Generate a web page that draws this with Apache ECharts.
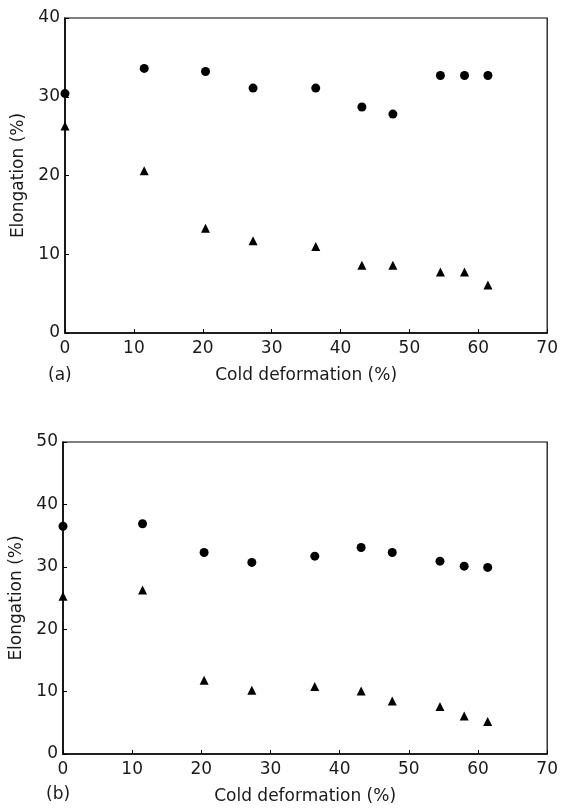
<!DOCTYPE html>
<html>
<head>
<meta charset="utf-8">
<script src="https://cdn.jsdelivr.net/npm/echarts@6/dist/echarts.min.js"></script>
<style>
html,body{margin:0;padding:0;background:#fff;}
#c{width:561px;height:808px;}
</style>
</head>
<body>
<div id="c"></div>
<script>
var deformation = [0, 11.5, 20.4, 27.3, 36.4, 43.1, 47.6, 54.5, 58.0, 61.4];
var aCircles = [30.4, 33.6, 33.2, 31.1, 31.1, 28.7, 27.8, 32.7, 32.7, 32.7];
var aTriangles = [26.3, 20.6, 13.3, 11.7, 11.0, 8.6, 8.6, 7.75, 7.75, 6.1];
var bCircles = [36.5, 36.9, 32.3, 30.7, 31.7, 33.1, 32.3, 30.9, 30.1, 29.9];
var bTriangles = [25.3, 26.3, 11.8, 10.2, 10.8, 10.1, 8.5, 7.6, 6.1, 5.2];
var xTitle = 'Cold deformation (%)';
var yTitle = 'Elongation (%)';
var panelLabels = ['(a)', '(b)'];

function pairs(xs, ys){ return xs.map(function(x,i){ return [x, ys[i]]; }); }

var FONT = 'DejaVu Sans';
var TC = '#1a1a1a';

function xAxis(gi){
  return {
    type:'value', gridIndex:gi, min:0, max:70, interval:10,
    name: xTitle, nameLocation:'middle', nameGap:34,
    nameTextStyle:{fontFamily:FONT, fontSize:17, color:TC},
    axisLine:{show:true, onZero:false, lineStyle:{color:'#000', width:1.5}},
    axisTick:{show:true, inside:true, length:4, lineStyle:{color:'#000'}},
    axisLabel:{fontFamily:FONT, fontSize:17, color:TC, margin:7},
    splitLine:{show:false}
  };
}
function yAxis(gi, max){
  return {
    type:'value', gridIndex:gi, min:0, max:max, interval:10,
    name: yTitle, nameLocation:'middle', nameGap:35,
    nameTextStyle:{fontFamily:FONT, fontSize:17, color:TC},
    axisLine:{show:true, onZero:false, lineStyle:{color:'#000', width:1.5}},
    axisTick:{show:true, inside:true, length:4, lineStyle:{color:'#000'}},
    axisLabel:{fontFamily:FONT, fontSize:17, color:TC, margin:5},
    splitLine:{show:false}
  };
}
function sc(xi, data, sym, size){
  return {
    type:'scatter', xAxisIndex:xi, yAxisIndex:xi, data:data,
    symbol:sym, symbolSize:size, clip:false,
    itemStyle:{color:'#000', opacity:1}
  };
}

var chart = echarts.init(document.getElementById('c'), null, {renderer:'canvas'});
chart.setOption({
  animation:false,
  backgroundColor:'#fff',
  grid:[
    {left:65, right:13, top:18, height:315, show:true, borderColor:'#000', borderWidth:1.2, backgroundColor:'transparent'},
    {left:63, right:13, top:442, height:312, show:true, borderColor:'#000', borderWidth:1.2, backgroundColor:'transparent'}
  ],
  xAxis:[xAxis(0), xAxis(1)],
  yAxis:[yAxis(0,40), yAxis(1,50)],
  series:[
    sc(0, pairs(deformation, aCircles), 'circle', 9),
    sc(0, pairs(deformation, aTriangles), 'triangle', 9),
    sc(1, pairs(deformation, bCircles), 'circle', 9),
    sc(1, pairs(deformation, bTriangles), 'triangle', 9)
  ],
  graphic:[
    {type:'text', left:48, top:367, style:{text:panelLabels[0], font:'17px "DejaVu Sans"', fill:TC}},
    {type:'text', left:46, top:786, style:{text:panelLabels[1], font:'17px "DejaVu Sans"', fill:TC}}
  ]
});
</script>
</body>
</html>
